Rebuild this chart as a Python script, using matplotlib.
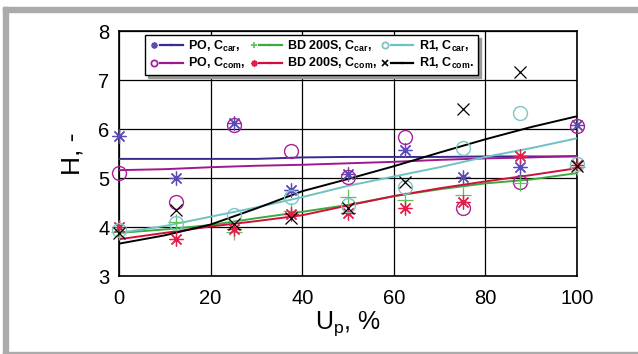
import matplotlib
matplotlib.use("Agg")
import matplotlib.pyplot as plt
from matplotlib.lines import Line2D
from matplotlib.patches import Rectangle
from matplotlib.legend_handler import HandlerTuple

plt.rcParams['font.family'] = ['Liberation Sans', 'DejaVu Sans']
plt.rcParams['mathtext.default'] = 'regular'

# ---- data ----
up_points = [0, 12.5, 25, 37.5, 50, 62.5, 75, 87.5, 100]
po_car_pts = [5.86, 4.99, 6.12, 4.76, 5.08, 5.57, 5.03, 5.23, 6.09]
po_com_pts = [5.10, 4.52, 6.08, 5.55, 5.03, 5.83, 4.38, 4.92, 6.07]
bd_car_pts = [3.90, 4.11, 3.89, 4.32, 4.62, 4.55, 4.65, 4.89, 5.23]
bd_com_pts = [4.00, 3.76, 3.96, 4.26, 4.28, 4.38, 4.52, 5.44, 5.26]
r1_car_pts = [3.93, 4.08, 4.24, 4.61, 4.45, 4.82, 5.61, 6.33, 5.28]
r1_com_pts = [3.87, 4.35, 4.06, 4.18, 4.38, 4.92, 6.40, 7.17, 5.25]

up_line = [0, 10, 20, 30, 40, 50, 60, 70, 80, 90, 100]
po_car_line = [5.39, 5.39, 5.39, 5.39, 5.42, 5.43, 5.43, 5.43, 5.44, 5.44, 5.44]
po_com_line = [5.16, 5.18, 5.22, 5.25, 5.27, 5.30, 5.33, 5.37, 5.40, 5.42, 5.45]
bd_car_line = [3.88, 3.95, 4.04, 4.18, 4.31, 4.45, 4.63, 4.77, 4.89, 4.97, 5.10]
bd_com_line = [3.75, 3.88, 4.01, 4.12, 4.24, 4.44, 4.63, 4.79, 4.93, 5.06, 5.20]
r1_car_line = [3.88, 4.02, 4.21, 4.40, 4.61, 4.84, 5.03, 5.22, 5.43, 5.61, 5.81]
r1_com_line = [3.66, 3.83, 4.05, 4.38, 4.73, 4.98, 5.24, 5.52, 5.79, 6.04, 6.26]

labels = [r'PO, C$_{car}$,', r'PO, C$_{com}$,', r'BD 200S, C$_{car}$,',
          r'BD 200S, C$_{com}$,', r'R1, C$_{car}$,', r'R1, C$_{com}$.']
x_ticks = [0, 20, 40, 60, 80, 100]
y_ticks = [3, 4, 5, 6, 7, 8]

# ---- styles ----
series = [
    dict(pts=po_car_pts, line=po_car_line, lc='#3b2a8f', mc='#5b4bb5', m=(8, 2, 0), ms=10, lm=(8, 2, 0)),
    dict(pts=po_com_pts, line=po_com_line, lc='#a0188e', mc='#a8209a', m='o', ms=10, lm='o'),
    dict(pts=bd_car_pts, line=bd_car_line, lc='#3cab3c', mc='#5cc05c', m='+', ms=11, lm='+'),
    dict(pts=bd_com_pts, line=bd_com_line, lc='#d0103a', mc='#e0204a', m=(8, 2, 0), ms=10, lm=(8, 2, 0)),
    dict(pts=r1_car_pts, line=r1_car_line, lc='#6fc2c2', mc='#7cc6c6', m='o', ms=10, lm='o'),
    dict(pts=r1_com_pts, line=r1_com_line, lc='#000000', mc='#000000', m='x', ms=8, lm='x'),
]

fig = plt.figure(figsize=(6.38, 3.54), dpi=100)
W, H = 638, 354
# gray frame
gray = '#ababab'
fig.patches.append(Rectangle((3 / W, 1 - 12 / H), 1 - 3 / W, 5 / H, transform=fig.transFigure, color=gray, zorder=0))
fig.patches.append(Rectangle((3 / W, 0), 5 / W, 1 - 7 / H, transform=fig.transFigure, color=gray, zorder=0))
fig.patches.append(Rectangle((3 / W, 0), 1 - 3 / W, 2.5 / H, transform=fig.transFigure, color=gray, zorder=0))

ax = fig.add_axes([119 / W, 1 - 276 / H, (577 - 119) / W, (276 - 31) / H])
ax.set_xlim(0, 100)
ax.set_ylim(3, 8)
ax.set_xticks(x_ticks)
ax.set_yticks(y_ticks)
ax.grid(True, color='black', linewidth=0.9)
ax.set_axisbelow(True)
for s in ax.spines.values():
    s.set_color('black')
    s.set_linewidth(1.2)
ax.tick_params(length=0, labelsize=14.5, pad=7)
ax.tick_params(axis='x', pad=9)

for sd in series:
    ax.plot(up_line, sd['line'], color=sd['lc'], lw=1.4, zorder=3)
for sd in series:
    if sd['m'] in ('o',):
        ax.plot(up_points, sd['pts'], ls='none', marker='o', ms=sd['ms'], mfc='none',
                mec=sd['mc'], mew=1.0, zorder=4, clip_on=False)
    else:
        ax.plot(up_points, sd['pts'], ls='none', marker=sd['m'], ms=sd['ms'],
                color=sd['mc'], mew=0.9, zorder=4, clip_on=False)

ax.set_xlabel(r'U$_p$, %', fontsize=18, labelpad=1)
ax.set_ylabel('H, -', fontsize=19, labelpad=10)

handles = []
for sd in series:
    if sd['lm'] == 'o':
        mk = Line2D([], [], ls='none', marker='o', ms=4.5, mfc='none', mec=sd['mc'], mew=1.3)
    else:
        mk = Line2D([], [], ls='none', marker=sd['lm'], ms=4.5, color=sd['mc'], mew=1.2)
    ln = Line2D([], [], color=sd['lc'], lw=1.6)
    handles.append((mk, ln, ln))

leg = ax.legend(handles, labels, ncol=3, handler_map={tuple: HandlerTuple(ndivide=None, pad=0)},
                loc='upper left', bbox_to_anchor=(0.057, 0.984), borderaxespad=0,
                prop={'size': 9, 'weight': 'bold'}, handlelength=2.7, handletextpad=0.45,
                columnspacing=0.2, labelspacing=0.2, fancybox=False, edgecolor='black',
                framealpha=1, borderpad=0.3,
                shadow={'color': '#9a9a9a', 'alpha': 1})
leg.get_frame().set_linewidth(1.0)
leg.set_zorder(10)

fig.savefig('out.png', dpi=100)
